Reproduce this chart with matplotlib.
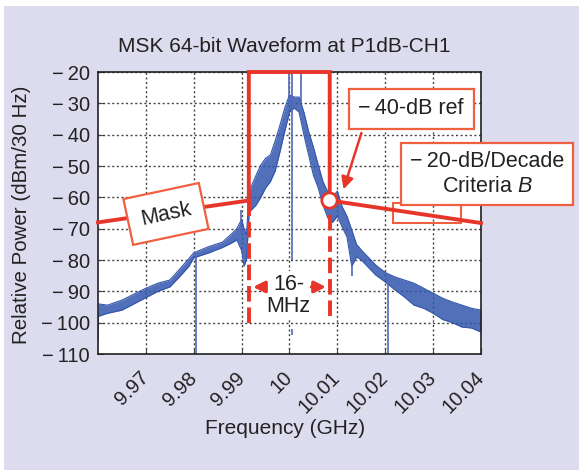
import matplotlib.pyplot as plt
from matplotlib.patches import Rectangle

plt.rcParams['font.family'] = ['Liberation Sans', 'DejaVu Sans']
plt.rcParams['mathtext.fontset'] = 'custom'
plt.rcParams['mathtext.it'] = 'Liberation Sans:italic'
plt.rcParams['mathtext.rm'] = 'Liberation Sans'

freq = [9.960, 9.962, 9.965, 9.970, 9.9725, 9.975, 9.977, 9.979, 9.980, 9.983,
        9.986, 9.988, 9.989, 9.990, 9.9905, 9.991, 9.9916, 9.993, 9.994, 9.995,
        9.996, 9.997, 9.998, 9.999, 10.000, 10.001, 10.002, 10.003, 10.004, 10.005,
        10.006, 10.007, 10.008, 10.009, 10.010, 10.011, 10.012, 10.013, 10.014, 10.015,
        10.016, 10.018, 10.020, 10.022, 10.024, 10.026, 10.028, 10.030, 10.032, 10.034,
        10.036, 10.038, 10.040]
upper = [-94, -94.4, -92.8, -89, -87.4, -86.4, -83, -79.5, -77.7, -75.8,
         -74.3, -71.5, -70, -67, -70, -72, -58, -53, -49.7, -47.5,
         -46.5, -42, -37, -31.5, -27.3, -28, -28, -32.8, -39, -44,
         -49.7, -55, -58.3, -60, -58, -63, -66, -70.4, -75, -76.8,
         -78.4, -81.6, -84, -85.4, -86.4, -87.4, -89, -90.6, -92.2, -93.4,
         -94.4, -95.4, -96]
lower = [-98, -97, -96, -92, -90, -88.6, -85.4, -82, -79.3, -77.8,
         -76, -74.5, -73.6, -77, -82, -80, -64.7, -62.5, -60, -57,
         -55, -51.6, -45.5, -39, -32.8, -31.5, -32.8, -40, -46.5, -53,
         -57, -62.5, -66.6, -68, -66, -69.5, -72.6, -82, -79, -80,
         -81.6, -84.8, -87, -89.5, -91.8, -94.4, -95.4, -97, -99, -100,
         -101.4, -101.7, -103]

# isolated spikes / spurs
spike_f = [9.9601, 9.9805, 10.0006, 10.0006, 10.0205, 9.99995, 10.0023, 9.9898, 10.0130]
spike_top = [-96, -79, -20, -102, -85, -20, -20, -64, -80]
spike_bot = [-106, -110, -80, -104, -110, -30, -30, -72, -85]

# mask outline
mask_f = [9.960, 9.9915, 9.9915, 10.0084, 10.0084, 10.040]
mask_v = [-68, -61, -20, -20, -61, -68.2]
edge_f = [9.9915, 10.0085]
edge_top = -61
edge_bot = [-100, -98]

x_ticks = [9.97, 9.98, 9.99, 10.0, 10.01, 10.02, 10.03, 10.04]
x_labels = ['9.97', '9.98', '9.99', '10', '10.01', '10.02', '10.03', '10.04']
y_ticks = [-20, -30, -40, -50, -60, -70, -80, -90, -100, -110]

blue = '#3456ae'
red = '#e8352a'
orange = '#ee6040'
ink = '#222222'

fig = plt.figure(figsize=(5.79, 4.70), dpi=100, facecolor='white')
fig.patches.append(Rectangle((4 / 579, 0), 1, 1 - 6 / 470, transform=fig.transFigure,
                             facecolor='#dcdcee', edgecolor='none', zorder=-10))
ax = fig.add_axes([98 / 579, 1 - 354 / 470, 383 / 579, 282 / 470])
ax.set_xlim(9.96, 10.04)
ax.set_ylim(-110, -20)
ax.set_facecolor('white')
for s in ax.spines.values():
    s.set_linewidth(1.2)
    s.set_color(ink)

ax.set_xticks(x_ticks)
ax.set_xticklabels(x_labels, rotation=45, ha='right', va='center',
                   rotation_mode='anchor', fontsize=14.5, color=ink)
ax.set_yticks(y_ticks)
ax.set_yticklabels(['\u2212\u2009' + str(abs(v)) for v in y_ticks], fontsize=14.5, color=ink)
ax.tick_params(axis='both', direction='in', length=4, color='#444444')
ax.tick_params(axis='y', pad=6)
ax.tick_params(axis='x', pad=15)
ax.grid(True, color='#444444', linestyle=(0, (1.5, 1.8)), linewidth=1.0)
ax.set_axisbelow(True)

ax.fill_between(freq, lower, upper, color=blue, alpha=0.85, linewidth=0, zorder=2)
ax.plot(freq, upper, color=blue, lw=0.8, zorder=2)
ax.plot(freq, lower, color=blue, lw=0.8, zorder=2)
ax.vlines(spike_f, spike_bot, spike_top, color='#5068b8', lw=1.2, zorder=2)

ax.plot(mask_f, mask_v, color=red, lw=2.8, zorder=4, clip_on=False, solid_joinstyle='miter')
ax.vlines(edge_f, edge_bot, edge_top, color=red, lw=2.8, linestyles=[(0, (4, 1.5))], zorder=4)
ax.add_patch(Rectangle((10.0216, -68.2), 0.0142, 6.5, facecolor='none',
                       edgecolor=orange, lw=1.5, zorder=3))
ax.plot([10.0083], [-61], marker='o', ms=11, mfc='white', mec=red, mew=2, zorder=6)

# 16-MHz arrows
arrow_kw = dict(arrowstyle='-|>', color=red, lw=2.4, mutation_scale=17)
ax.annotate('', xy=(9.9918, -88.6), xytext=(9.9956, -88.6), arrowprops=arrow_kw, zorder=6)
ax.annotate('', xy=(10.0082, -88.6), xytext=(10.0040, -88.6), arrowprops=arrow_kw, zorder=6)
ax.text(9.9998, -91.3, '16-\nMHz', ha='center', va='center', fontsize=15.5, linespacing=1.1,
        color=ink, bbox=dict(boxstyle='square,pad=0.1', facecolor='white', edgecolor='none'),
        zorder=5)

ax.text(9.9742, -65.3, 'Mask', rotation=12, ha='center', va='center', fontsize=15.5,
        color=ink,
        bbox=dict(boxstyle='square,pad=0.6', facecolor='white', edgecolor=orange, lw=1.6),
        zorder=7)
ax.text(10.0254, -31.8, '\u2212\u200940-dB ref', ha='center', va='center', fontsize=15.5,
        color=ink,
        bbox=dict(boxstyle='square,pad=0.45', facecolor='white', edgecolor=orange, lw=1.6),
        zorder=7)
ax.annotate('', xy=(10.0111, -58.3), xytext=(10.0152, -38.6),
            arrowprops=dict(arrowstyle='-|>', color=red, lw=1.8, mutation_scale=18), zorder=7)
fig.text(487 / 579, 1 - 174 / 470, '\u2212\u200920-dB/Decade\nCriteria $\\it{B}$', ha='center',
         va='center', fontsize=15.5, linespacing=1.2, color=ink,
         bbox=dict(boxstyle='square,pad=0.4', facecolor='white', edgecolor=orange, lw=1.6),
         zorder=8)

fig.text(284 / 579, 1 - 47 / 470, 'MSK 64-bit Waveform at P1dB-CH1', ha='center',
         va='center', fontsize=15, color=ink)
fig.text(285 / 579, 1 - 428 / 470, 'Frequency (GHz)', ha='center', va='center',
         fontsize=15, color=ink)
fig.text(22 / 579, 1 - 215 / 470, 'Relative Power (dBm/30 Hz)', ha='center', va='center',
         rotation=90, fontsize=14.8, color=ink)

fig.savefig('out.png', dpi=100, facecolor=fig.get_facecolor())
